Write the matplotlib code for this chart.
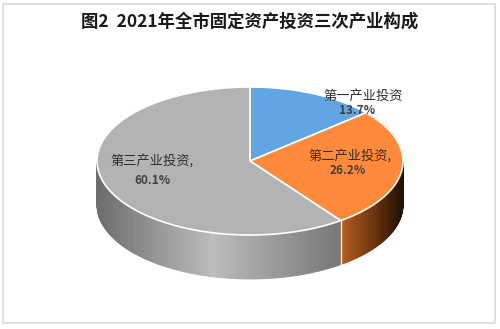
"""3D-style pie: 2021 fixed-asset investment by sector"""

import numpy as np
import matplotlib
matplotlib.use('Agg')
from matplotlib import pyplot as plt
from matplotlib.patches import Polygon, Rectangle

plt.rcParams['font.family'] = ['Noto Sans CJK SC', 'DejaVu Sans']

# data
sectors = ['第一产业投资', '第二产业投资,', '第三产业投资,']
shares = [13.7, 26.2, 60.1]
pct_labels = ['13.7%', '26.2%', '60.1%']
colors = ['#62a5e3', '#ff8a3c', '#b3b3b3']

# pie geometry in pixels (y down)
cx, cy, rx, ry, depth = 250, 161, 153, 74, 44

fig = plt.figure(figsize=(5.0, 3.29), dpi=100)
ax = fig.add_axes([0, 0, 1, 1])
ax.set_xlim(0, 500)
ax.set_ylim(329, 0)
ax.axis('off')

# frame round the chart
ax.add_patch(Rectangle((2.5, 3.5), 492, 319, facecolor='white',
                       edgecolor='#d9d9d9', lw=1.2))


def pt(theta, dy=0):
    t = np.radians(theta)
    return cx + rx * np.cos(t), cy - ry * np.sin(t) + dy


# slice angles: start at 12 o'clock, go clockwise
ends = 90 - np.cumsum(shares) / 100 * 360
starts = np.concatenate([[90], ends[:-1]])

# visible front wall of each slice (angles between -180 and 0), shaded by x
walls = {
    2: ((-180, starts[2]), np.array([97, 213, 343]),
        np.array([[0x6c] * 3, [0xbc] * 3, [0x76] * 3])),
    1: ((ends[1], 0), np.array([343, 372, 403]),
        np.array([[0xb2, 0x5e, 0x20], [0x72, 0x38, 0x10], [0x22, 0x10, 0x04]])),
}

for i, ((lo, hi), xs_ref, cols) in walls.items():
    steps = np.linspace(lo, hi, 120)
    for a, b in zip(steps[:-1], steps[1:]):
        p1, p2 = pt(a), pt(b)
        xm = (p1[0] + p2[0]) / 2
        c = [np.interp(xm, xs_ref, cols[:, k]) / 255 for k in range(3)]
        ax.add_patch(Polygon([p1, p2, pt(b, depth), pt(a, depth)],
                             facecolor=c, edgecolor=c, lw=0.6))

# white seam between orange and gray walls
sx, sy = pt(ends[1])
ax.plot([sx, sx], [sy, sy + depth], color='white', lw=1)

# top faces
for i in range(3):
    th = np.linspace(starts[i], ends[i], 200)
    pts = [(cx, cy)] + [pt(t) for t in th]
    ax.add_patch(Polygon(pts, facecolor=colors[i], edgecolor='white', lw=1.2,
                         joinstyle='round'))

# labels
name_pos = [(363, 96), (350, 156), (152, 161)]
pct_pos = [(357, 111), (348, 171), (152, 181)]
for i in range(3):
    ax.text(*name_pos[i], sectors[i], ha='center', va='center',
            fontsize=9.5, color='#303030')
    ax.text(*pct_pos[i], pct_labels[i], ha='center', va='center',
            fontsize=8.5, fontweight='bold', color='#404040')

ax.text(250, 22, '图2  2021年全市固定资产投资三次产业构成', ha='center',
        va='center', fontsize=12.5, fontweight='bold', color='#1a1a1a')

plt.savefig('out.png', dpi=100)
